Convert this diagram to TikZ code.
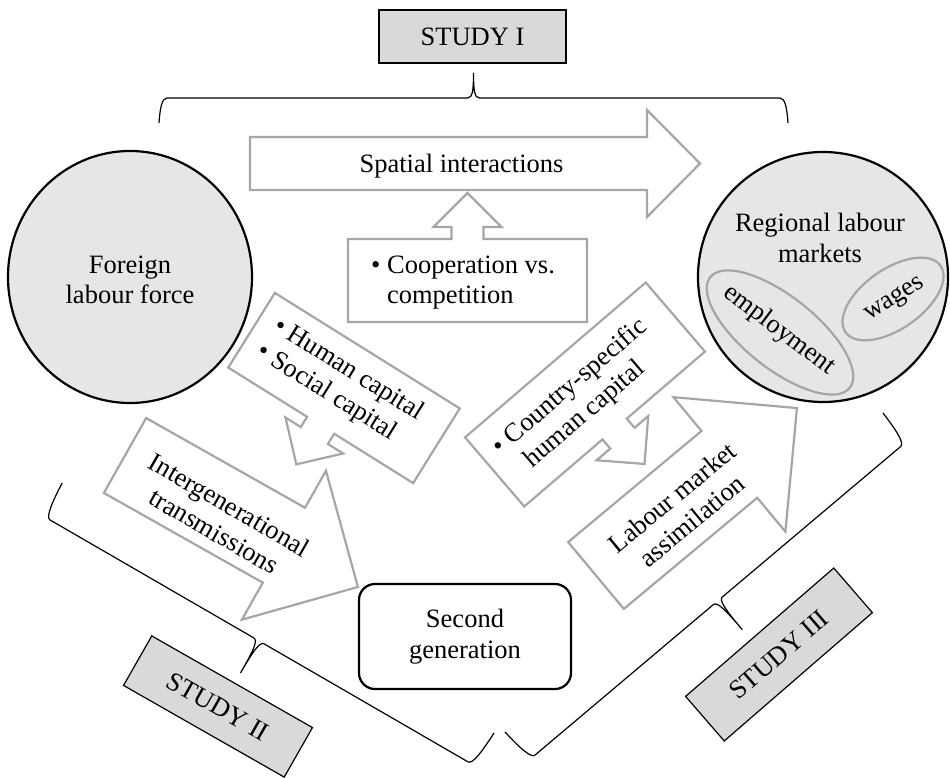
\documentclass[tikz,border=0pt]{standalone}
\usepackage{fontspec}
\setmainfont{Liberation Serif}
\usetikzlibrary{shapes.geometric}
\definecolor{arrgray}{HTML}{A6A6A6}
\definecolor{circfill}{HTML}{E6E6E6}
\definecolor{boxfill}{HTML}{D9D9D9}
\tikzset{
  txt/.style={font=\fontsize{26.5}{30.5}\selectfont, inner sep=0pt},
  garrow/.style={draw=arrgray, line width=2.2pt, fill=white, line join=miter},
  bigcirc/.style={draw=black, line width=2.2pt, fill=circfill},
  subell/.style={draw=arrgray, line width=2.2pt, fill=circfill},
  studybox/.style={draw=black, line width=1.2pt, fill=boxfill, txt},
  bracestyle/.style={draw=black, line width=1.2pt}
}
\newcommand{\blockarrow}[7]{%
  \begin{scope}[shift={(#1,#2)},rotate=#3]
    \draw[garrow] (0,#5) -- ({#4-#7},#5) -- ({#4-#7},#6) -- (#4,0) -- ({#4-#7},-#6) -- ({#4-#7},-#5) -- (0,-#5) -- cycle;
  \end{scope}}
\newcommand{\calloutbox}[5]{%
  \begin{scope}[shift={(#1,#2)},rotate=#3]
    \draw[garrow] ({-#4/2},{-#5/2}) -- ({#4/2},{-#5/2}) -- ({#4/2},{#5/2}) -- (16,{#5/2}) -- (16,{#5/2+12}) -- (34,{#5/2+12}) -- (0,{#5/2+46}) -- (-34,{#5/2+12}) -- (-16,{#5/2+12}) -- (-16,{#5/2}) -- ({-#4/2},{#5/2}) -- cycle;
  \end{scope}}
\newcommand{\mybrace}[6]{%
  \begin{scope}[shift={(#1,#2)},rotate=#3]
    \draw[bracestyle] (0,0) .. controls (1,{0.6*#5}) and (3,#5) .. (8,#5) -- ({#4/2-6},#5) .. controls ({#4/2-1},#5) and ({#4/2},{#5+0.3*#6}) .. ({#4/2},{#5+#6}) .. controls ({#4/2},{#5+0.3*#6}) and ({#4/2+1},#5) .. ({#4/2+6},#5) -- ({#4-8},#5) .. controls ({#4-3},#5) and ({#4-1},{0.6*#5}) .. (#4,0);
  \end{scope}}
\begin{document}
\begin{tikzpicture}[x=1pt,y=1pt]
\useasboundingbox (0,0) rectangle (950,777);
% braces
\mybrace{159}{654}{0}{629}{25}{25}
\mybrace{494}{44}{149.94}{499}{38}{37}
\mybrace{883}{364}{220.16}{494.6}{37}{38}
% block arrows
\blockarrow{250}{613.5}{0}{450}{26.5}{53.5}{53}
\blockarrow{125}{321.5}{-29.44}{267.5}{43}{85.5}{85}
\blockarrow{596}{201.5}{39.8}{261.6}{43.5}{87.5}{88}
% callout boxes
\calloutbox{467.5}{496.5}{0}{239}{83}
\calloutbox{344}{389}{148}{218}{88}
\calloutbox{585}{382.5}{220.6}{238}{91}
% circles
\node[bigcirc, ellipse, minimum width=244pt, minimum height=252pt, inner sep=0pt] (flf) at (130,500) {};
\node[txt, align=center] (tflf) at (130,497) {Foreign\\labour force};
\node[bigcirc, circle, minimum size=250pt, inner sep=0pt] (rlm) at (823,500) {};
\draw[subell, rotate around={-38.4:(780,444.5)}] (780,444.5) ellipse [x radius=89, y radius=36];
\draw[subell, rotate around={35:(893,478)}] (893,478) ellipse [x radius=58, y radius=30];
\node[txt, align=center] (trlm) at (820,539) {Regional labour\\markets};
\node[txt, rotate=-37] (temp) at (779,447) {employment};
\node[txt, rotate=32] (twag) at (895,477) {wages};
% second generation
\node[draw=black, line width=2.2pt, rounded corners=16pt, minimum width=212pt, minimum height=105pt, fill=white, txt, align=center] (sg) at (465,140.5) {Second\\generation};
% study boxes
\node[studybox, minimum width=187pt, minimum height=53pt] (s1) at (472.5,740.5) {STUDY I};
\node[studybox, minimum width=185pt, minimum height=57pt, rotate=-29.7] (s2) at (218,70.5) {STUDY II};
\node[studybox, minimum width=196pt, minimum height=59pt, rotate=40.9] (s3) at (779,122.5) {STUDY III};
% texts
\node[txt] (tsp) at (461.5,610.5) {Spatial interactions};
\node[txt, align=left, anchor=west] (tco) at (371,494.5) {\textbullet\ Cooperation vs.\\\hphantom{\textbullet\ }competition};
\node[txt, align=left, rotate=-32] (thc) at (340,394) {\textbullet\ Human capital\\\textbullet\ Social capital};
\node[txt, align=left, rotate=40.6] (tcs) at (580,378) {\textbullet\ Country-specific\\\hphantom{\textbullet\ }human capital};
\node[txt, align=center, rotate=-30] (tig) at (222,259) {Intergenerational\\transmissions};
\node[txt, align=center, rotate=39.5] (tlm) at (682,268) {Labour market\\assimilation};
\end{tikzpicture}
\end{document}
